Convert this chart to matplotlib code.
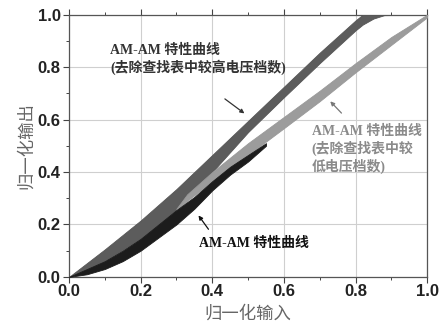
import matplotlib
matplotlib.use('Agg')
import matplotlib.pyplot as plt
from matplotlib.ticker import MultipleLocator

# 字体：西文用 Liberation，中文回退到 Noto Sans CJK SC
serif_cjk = ['Liberation Serif', 'Noto Sans CJK SC']
sans_cjk = ['Noto Sans CJK SC', 'DejaVu Sans']

# ============ 数据（从图中读取的带状曲线上下边界） ============
# 去除较高电压档数（深灰）
x_dark = [0, 0.1, 0.2, 0.3, 0.4, 0.5, 0.6, 0.7, 0.8, 0.82, 0.85, 0.88, 1.0]
dark_upper = [0, 0.105, 0.215, 0.335, 0.465, 0.595, 0.725, 0.855, 0.978, 1.0, 1.0, 1.0, 1.0]
dark_lower = [0, 0.06, 0.145, 0.255, 0.40, 0.552, 0.685, 0.815, 0.94, 0.962, 0.985, 0.998, 1.0]

# 去除较低电压档数（浅灰）
x_light = [0.3, 0.33, 0.4, 0.5, 0.6, 0.7, 0.8, 0.9, 1.0]
light_upper = [0.26, 0.315, 0.4, 0.51, 0.61, 0.71, 0.815, 0.915, 1.0]
light_lower = [0.255, 0.29, 0.365, 0.465, 0.567, 0.67, 0.78, 0.885, 0.99]

# 原始 AM-AM 特性（黑）
x_black = [0, 0.05, 0.1, 0.15, 0.2, 0.25, 0.3, 0.35, 0.4, 0.45, 0.5, 0.55]
black_upper = [0, 0.03, 0.06, 0.1, 0.145, 0.2, 0.255, 0.305, 0.365, 0.42, 0.465, 0.51]
black_lower = [0, 0.01, 0.03, 0.06, 0.1, 0.15, 0.2, 0.26, 0.33, 0.39, 0.44, 0.5]

ticks = [0.0, 0.2, 0.4, 0.6, 0.8, 1.0]

fig = plt.figure(figsize=(4.45, 3.25), dpi=100)
ax = fig.add_axes([0.155, 0.148, 0.805, 0.807])

ax.fill_between(x_dark, dark_lower, dark_upper, color='#5c5c5c', lw=0.6, ec='#555555', zorder=3)
ax.fill_between(x_light, light_lower, light_upper, color='#9c9c9c', lw=0.6, ec='#999999', zorder=4)
ax.fill_between(x_black, black_lower, black_upper, color='#1c1c1c', lw=0.6, ec='#1c1c1c', zorder=5)

# 坐标轴
ax.set_xlim(0, 1)
ax.set_ylim(0, 1)
ax.set_xticks(ticks)
ax.set_yticks(ticks)
ax.set_xticklabels([f'{t:.1f}' for t in ticks])
ax.set_yticklabels([f'{t:.1f}' for t in ticks])
ax.xaxis.set_minor_locator(MultipleLocator(0.1))
ax.yaxis.set_minor_locator(MultipleLocator(0.1))
ax.grid(True, which='major', color='#cfcfcf', lw=0.8, zorder=0)
ax.tick_params(which='major', length=4, width=0.8, color='#444444', labelsize=12,
               labelcolor='#222222', top=True, direction='out')
ax.tick_params(which='minor', length=2.5, width=0.7, color='#444444', top=True, direction='out')
ax.tick_params(axis='x', which='both', top=True, pad=1)
ax.tick_params(axis='y', which='both', pad=2)
for lab in ax.get_xticklabels() + ax.get_yticklabels():
    lab.set_fontweight('bold')
    lab.set_family('Liberation Sans')
for s in ax.spines.values():
    s.set_color('#555555')
    s.set_linewidth(0.9)

ax.set_xlabel('归一化输入', family=sans_cjk, fontsize=12.5, color='#666666', labelpad=4)
ax.set_ylabel('归一化输出', family=sans_cjk, fontsize=12.5, color='#666666', labelpad=2)

# 标注
ax.text(0.115, 0.89, 'AM-AM 特性曲线\n(去除查找表中较高电压档数)', family=serif_cjk,
        fontsize=10, fontweight='bold', color='#333333', va='top', ha='left', linespacing=1.2, zorder=6)
ax.annotate('', xy=(0.496, 0.617), xytext=(0.429, 0.685),
            arrowprops=dict(arrowstyle='-|>', color='#333333', lw=0.9, mutation_scale=6), zorder=6)

ax.text(0.678, 0.578, 'AM-AM 特性曲线\n(去除查找表中较\n低电压档数)', family=serif_cjk,
        fontsize=10, fontweight='bold', color='#8a8a8a', va='top', ha='left', linespacing=1.2, zorder=6)
ax.annotate('', xy=(0.724, 0.677), xytext=(0.766, 0.617),
            arrowprops=dict(arrowstyle='-|>', color='#777777', lw=0.9, mutation_scale=6), zorder=6)

ax.text(0.364, 0.126, 'AM-AM 特性曲线', family=serif_cjk,
        fontsize=10, fontweight='bold', color='#111111', va='center', ha='left', zorder=6)
ax.annotate('', xy=(0.357, 0.243), xytext=(0.394, 0.173),
            arrowprops=dict(arrowstyle='-|>', color='#111111', lw=0.9, mutation_scale=6), zorder=6)

fig.savefig('out.png', dpi=100)
